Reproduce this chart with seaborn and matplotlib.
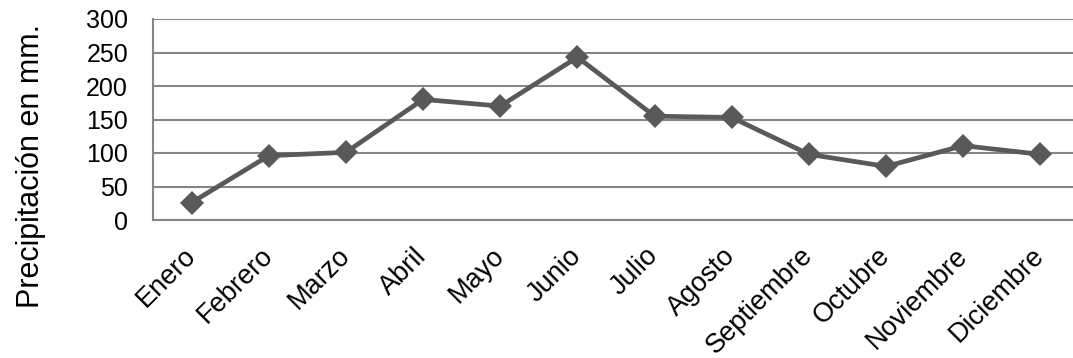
import matplotlib
matplotlib.use("Agg")
import matplotlib.pyplot as plt
from matplotlib.transforms import ScaledTranslation
import seaborn as sns
import pandas as pd

# Monthly precipitation (mm)
meses = ["Enero", "Febrero", "Marzo", "Abril", "Mayo", "Junio", "Julio",
         "Agosto", "Septiembre", "Octubre", "Noviembre", "Diciembre"]
precipitacion = [26, 96, 101, 180, 170, 243, 155, 153, 98, 80, 111, 98]
y_ticks = [0, 50, 100, 150, 200, 250, 300]

sns.set_theme(style="white")
plt.rcParams["font.family"] = ["Liberation Sans", "DejaVu Sans"]

df = pd.DataFrame({"mes": meses, "mm": precipitacion})
df["pos"] = range(len(meses))

W, H = 1073, 358
fig = plt.figure(figsize=(W / 100, H / 100), dpi=100)
ax_w = 1079 - 153
ax_h = 220 - 19
ax = fig.add_axes([153 / W, 1 - 220 / H, ax_w / W, ax_h / H])

sns.lineplot(data=df, x="pos", y="mm", ax=ax, color="#595959", linewidth=3.4,
             marker="D", markersize=12, markeredgewidth=0, zorder=3)

ax.set_xlim(-0.5, 11.5)
ax.set_ylim(0, 300)
ax.set_yticks(y_ticks)
ax.set_yticklabels([str(v) for v in y_ticks], fontsize=18, color="black")
ax.set_xticks(df["pos"])
ax.set_xticklabels(meses, fontsize=19.5, color="black", rotation=45,
                   ha="right", va="center", rotation_mode="anchor")
shift = ScaledTranslation(12 / 100, 0, fig.dpi_scale_trans)
for lab in ax.get_xticklabels():
    lab.set_transform(lab.get_transform() + shift)

ax.tick_params(axis="both", length=0)
ax.tick_params(axis="y", pad=18)
ax.tick_params(axis="x", pad=23)

ax.grid(axis="y", color="#868686", linewidth=1.5)
ax.set_axisbelow(True)
for side in ["top", "right"]:
    ax.spines[side].set_visible(False)
for side in ["left", "bottom"]:
    ax.spines[side].set_color("#868686")
    ax.spines[side].set_linewidth(1.5)

ax.set_xlabel("")
ax.set_ylabel("Precipitación en mm.", fontsize=22, color="black")
ax.yaxis.set_label_coords(-(153 - 46) / ax_w, (220 - 166) / ax_h)

fig.savefig("out.png", dpi=100, facecolor="white")
